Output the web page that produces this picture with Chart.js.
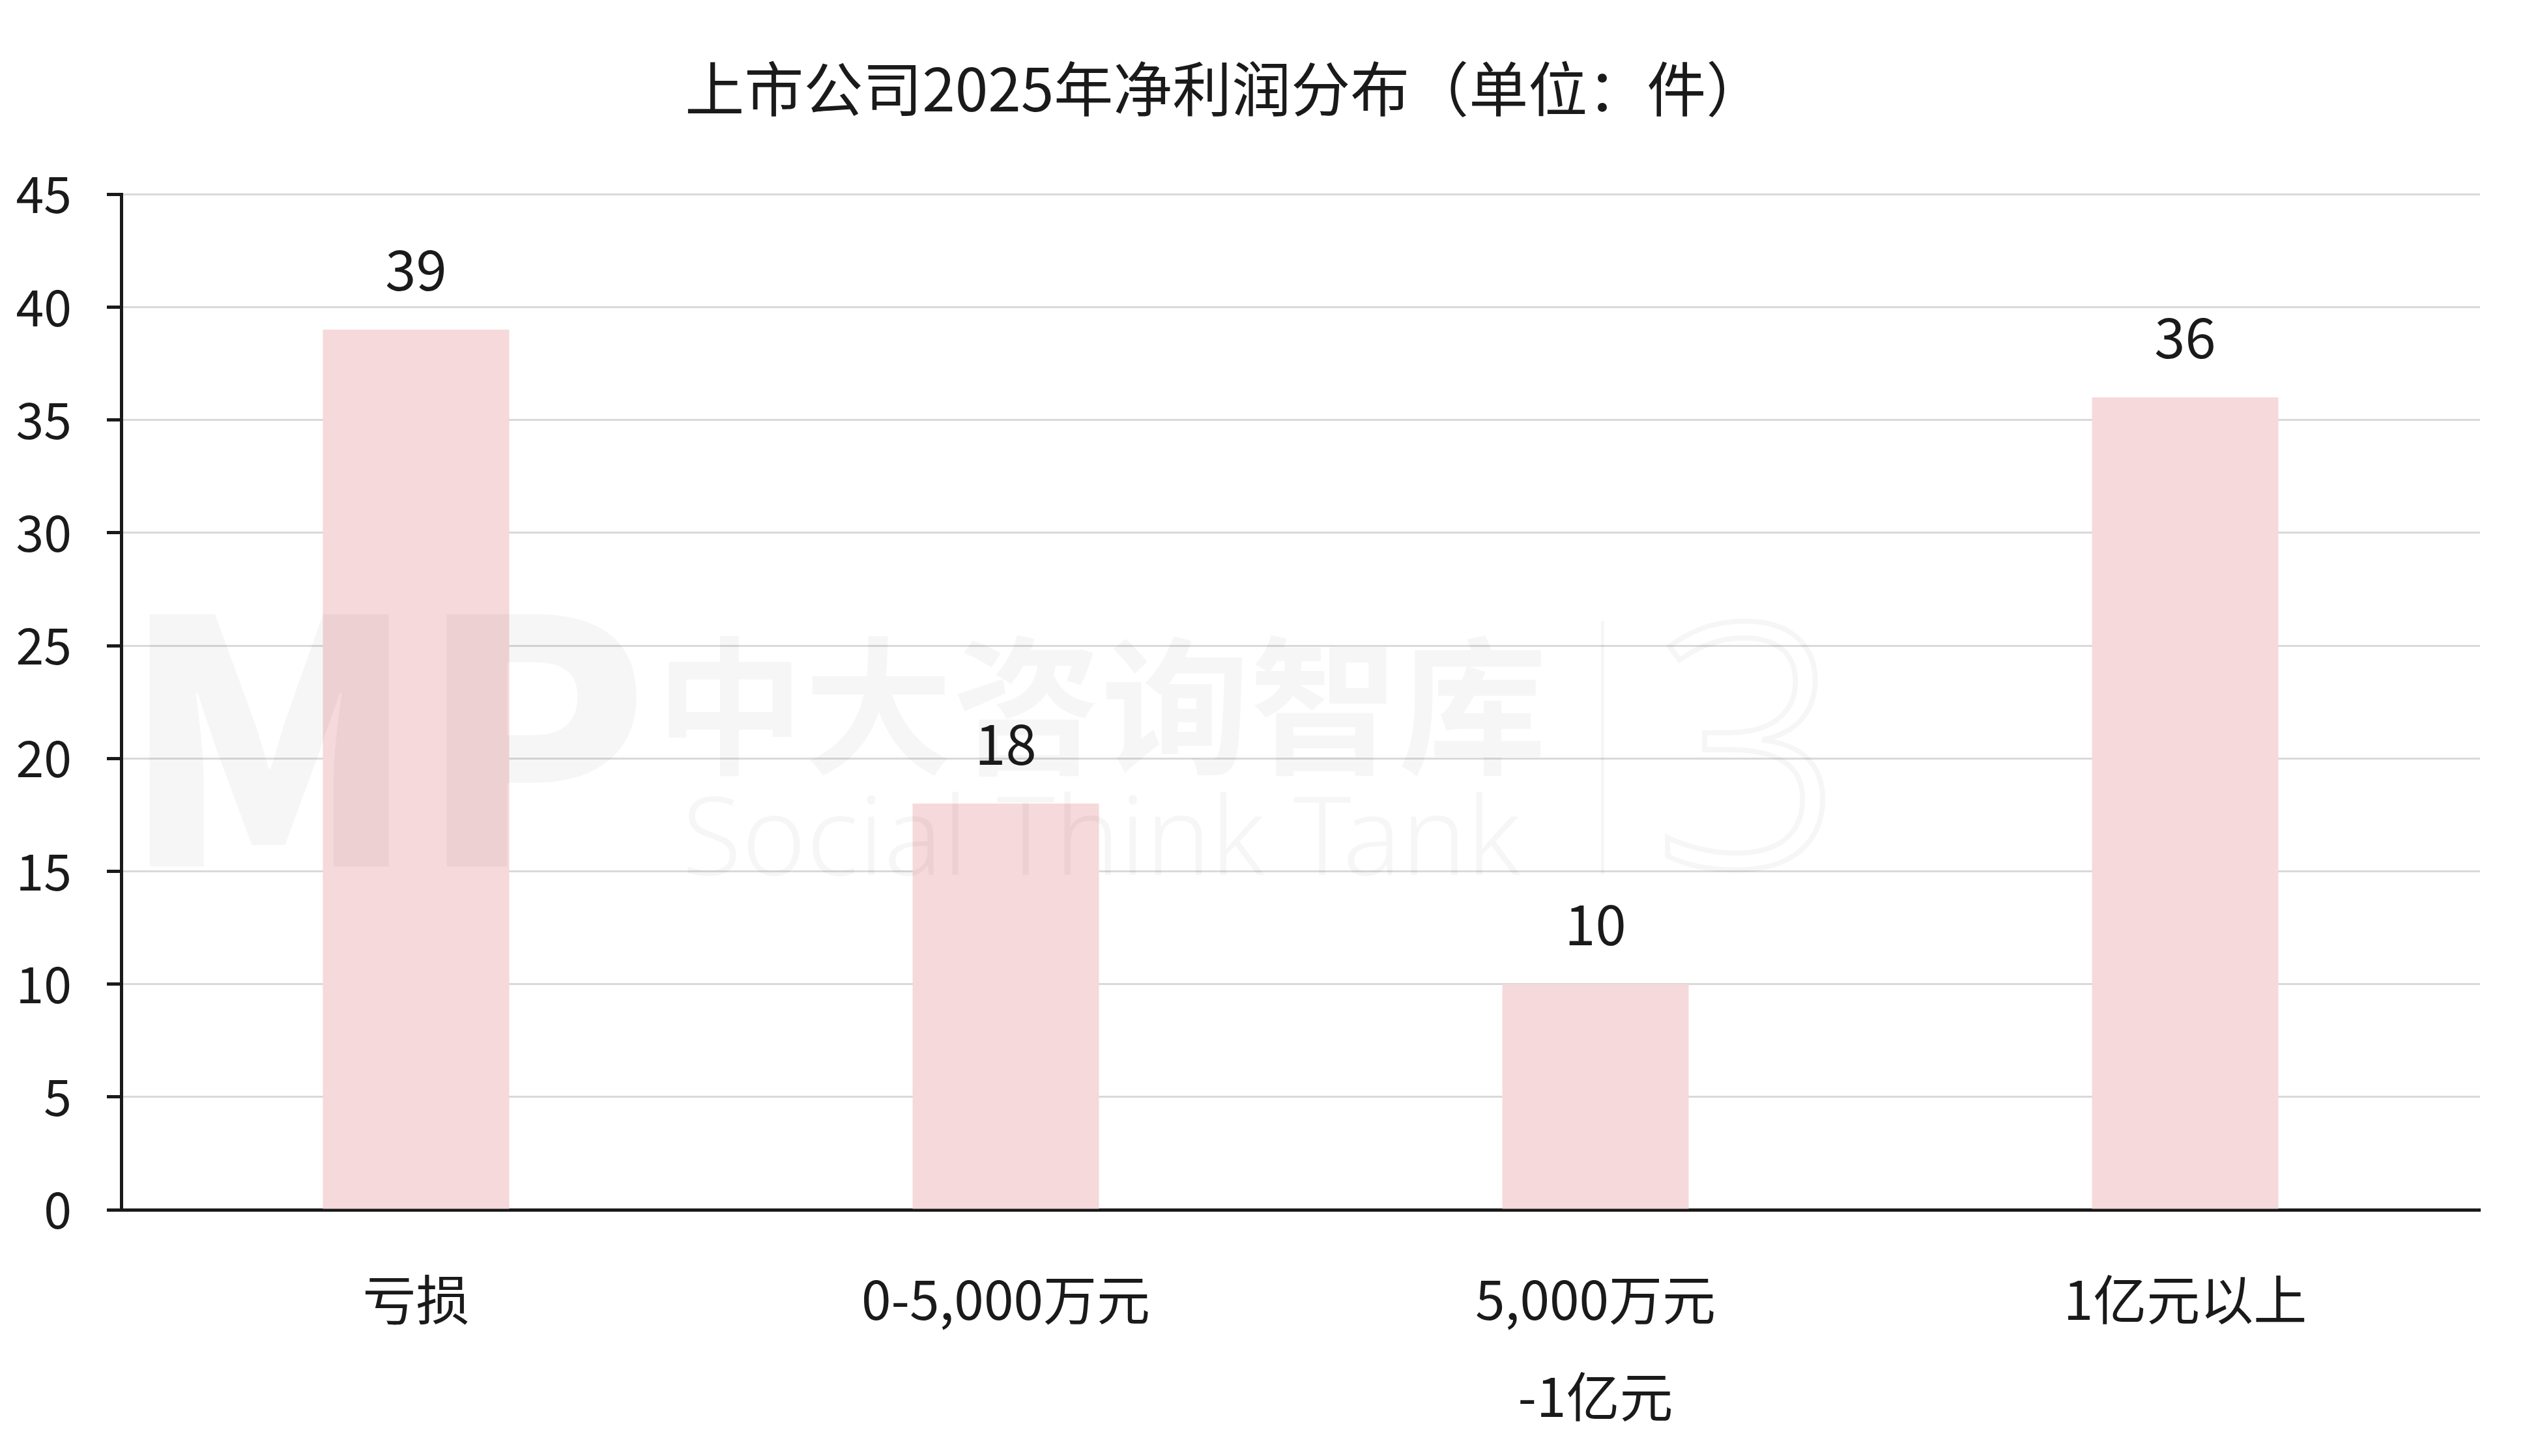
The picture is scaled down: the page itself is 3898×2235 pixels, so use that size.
<!DOCTYPE html>
<html>
<head>
<meta charset="utf-8">
<script src="https://cdn.jsdelivr.net/npm/chart.js@4.4.1/dist/chart.umd.min.js"></script>
<style>
    html, body { margin: 0; padding: 0; background: #fff; }
    #wrapper-chart { width: 3898px; height: 2235px; }
</style>
</head>
<body>
<div id="wrapper-chart"><canvas id="profit-chart"></canvas></div>
<script>
// data
const categories = ['亏损', '0-5,000万元', ['5,000万元', '-1亿元'], '1亿元以上']
const counts = [39, 18, 10, 36]
const yMin = 0
const yMax = 45
const yStep = 5

const fontFamily = '"Noto Sans CJK SC", "Noto Sans", sans-serif'
const ink = '#1a1a1a'
Chart.defaults.font.family = fontFamily
Chart.defaults.color = ink

// faint "Social Think Tank" watermark, drawn over the bars
const watermark = {
    id: 'watermark',
    afterDatasetsDraw(chart) {
        const { ctx, chartArea: a } = chart
        const w = a.right - a.left
        const h = a.bottom - a.top
        ctx.save()
        ctx.fillStyle = 'rgba(0,0,0,0.037)'
        ctx.strokeStyle = 'rgba(0,0,0,0.037)'
        ctx.textAlign = 'center'
        ctx.textBaseline = 'alphabetic'

        ctx.font = '900 520px ' + fontFamily
        ctx.fillText('MP', a.left + 0.112 * w, a.top + 0.662 * h)

        ctx.font = 'bold 228px ' + fontFamily
        ctx.fillText('中大咨询智库', a.left + 0.4155 * w, a.top + 0.56 * h)

        ctx.font = '300 168px "Noto Sans", sans-serif'
        ctx.fillText('Social Think Tank', a.left + 0.4155 * w, a.top + 0.67 * h)

        ctx.lineWidth = 5
        ctx.beginPath()
        ctx.moveTo(a.left + 0.628 * w, a.top + 0.42 * h)
        ctx.lineTo(a.left + 0.628 * w, a.top + 0.67 * h)
        ctx.stroke()

        ctx.lineWidth = 8
        ctx.font = '300 520px "Noto Sans", sans-serif'
        ctx.strokeText('3', a.left + 0.69 * w, a.top + 0.662 * h)
        ctx.restore()
    }
}

// value above each bar
const valueLabels = {
    id: 'valueLabels',
    afterDatasetsDraw(chart) {
        const ctx = chart.ctx
        const meta = chart.getDatasetMeta(0)
        ctx.save()
        ctx.font = '85px ' + fontFamily
        ctx.fillStyle = ink
        ctx.textAlign = 'center'
        ctx.textBaseline = 'middle'
        meta.data.forEach((bar, i) => {
            ctx.fillText(String(counts[i]), bar.x, bar.y - 92)
        })
        ctx.restore()
    }
}

const ctx = document.getElementById('profit-chart').getContext('2d')
new Chart(ctx, {
    type: 'bar',
    data: {
        labels: categories,
        datasets: [
            {
                data: counts,
                backgroundColor: '#f6d9da',
                borderWidth: 0,
                categoryPercentage: 1,
                barPercentage: 0.316,
            },
        ],
    },
    options: {
        responsive: true,
        maintainAspectRatio: false,
        animation: false,
        layout: {
            padding: { left: 0, right: 92, top: 0, bottom: 0 },
        },
        plugins: {
            legend: { display: false },
            tooltip: { enabled: false },
            title: {
                display: true,
                text: '上市公司2025年净利润分布（单位：件）　',
                color: ink,
                font: { size: 91, weight: 'normal' },
                padding: { top: 82, bottom: 107 },
            },
        },
        scales: {
            x: {
                grid: { display: false, drawTicks: false },
                border: { display: true, color: ink, width: 5 },
                ticks: {
                    padding: 63,
                    color: ink,
                    autoSkip: false,
                    maxRotation: 0,
                    font: { size: 82, lineHeight: 1.82 },
                },
                // chart.js counts tick padding twice; pin the axis height
                afterFit(scale) {
                    scale.height = 378
                },
            },
            y: {
                min: yMin,
                max: yMax,
                grid: {
                    color: '#d9d9d9',
                    lineWidth: 3,
                    tickColor: ink,
                    tickWidth: 5,
                    tickLength: 22,
                },
                border: { display: true, color: ink, width: 5 },
                ticks: {
                    stepSize: yStep,
                    padding: 54,
                    color: ink,
                    font: { size: 77 },
                },
                afterFit(scale) {
                    scale.width = 186
                },
            },
        },
    },
    plugins: [watermark, valueLabels],
})
</script>
</body>
</html>
